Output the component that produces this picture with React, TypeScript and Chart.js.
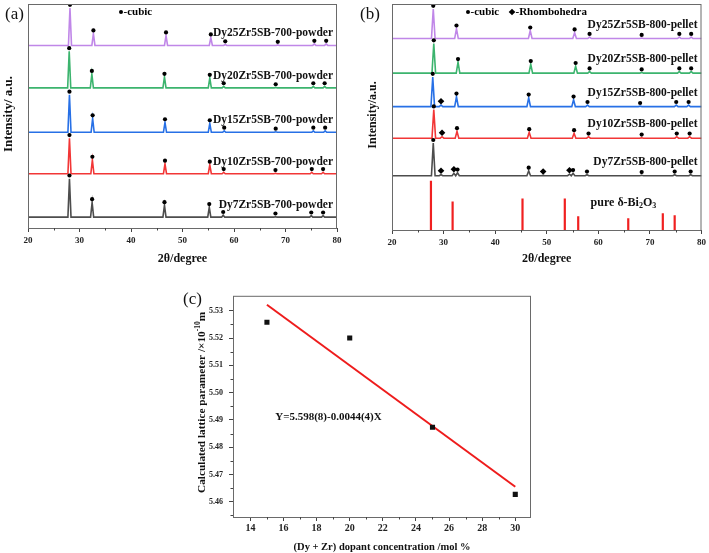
import React, { useEffect, useRef } from "react";
import { Chart, registerables } from "chart.js";

Chart.register(...registerables);

const SERIF = '"Liberation Serif", "Times New Roman", Times, serif';

// ---------------- Panel (a): 700 °C powders ----------------
const A_LABELS = [
  "Dy25Zr5SB-700-powder",
  "Dy20Zr5SB-700-powder",
  "Dy15Zr5SB-700-powder",
  "Dy10Zr5SB-700-powder",
  "Dy7Zr5SB-700-powder",
];
const A_OFFSETS = [185, 142, 97, 55, 11];
const A_DY25_POS = [28.15, 32.7, 46.8, 55.5, 58.3, 68.5, 75.6, 77.9];
const A_DY25_INT = [38, 12, 10, 8, 1, 0.5, 1.5, 1.5];
const A_DY20_POS = [28.0, 32.4, 46.5, 55.3, 58.0, 68.1, 75.4, 77.6];
const A_DY20_INT = [37, 14, 11, 10, 1.5, 0.5, 1.5, 1.5];
const A_DY15_POS = [28.05, 32.55, 46.6, 55.3, 58.1, 68.1, 75.4, 77.7];
const A_DY15_INT = [38, 14, 10, 9, 1.5, 0.5, 1.5, 1.5];
const A_DY10_POS = [28.05, 32.5, 46.6, 55.3, 58.0, 68.05, 75.1, 77.3];
const A_DY10_INT = [36, 14, 10, 9, 1.5, 0.5, 1.5, 1.5];
const A_DY7_POS = [28.05, 32.45, 46.5, 55.2, 57.9, 68.05, 75.0, 77.3];
const A_DY7_INT = [39, 15, 12, 10, 2, 0.5, 1.5, 1.5];

// ---------------- Panel (b): 800 °C pellets ----------------
const B_LABELS = [
  "Dy25Zr5SB-800-pellet",
  "Dy20Zr5SB-800-pellet",
  "Dy15Zr5SB-800-pellet",
  "Dy10Zr5SB-800-pellet",
  "Dy7Zr5SB-800-pellet",
];
const B_OFFSETS = [194, 159, 125, 93, 55];
const B_DY25_POS = [28.0, 32.5, 46.8, 55.4, 58.3, 68.4, 75.7, 78.0];
const B_DY25_INT = [30, 10, 8, 6, 1.5, 0.5, 1.5, 1.5];
const B_DY20_POS = [28.1, 32.8, 46.9, 55.6, 58.3, 68.4, 75.7, 78.0];
const B_DY20_INT = [30, 11, 9, 7, 1.5, 0.5, 1.5, 1.5];
const B_DY15_POS = [27.9, 32.5, 46.5, 55.2, 57.9, 68.1, 75.1, 77.5];
const B_DY15_INT = [30, 10, 9, 7, 1.5, 0.5, 1.5, 1.5];
const B_DY15_RPOS = [29.5];
const B_DY15_RINT = [1.5];
const B_DY10_POS = [28.1, 32.6, 46.6, 55.3, 58.1, 68.4, 75.2, 77.7];
const B_DY10_INT = [29, 7, 6, 5, 1.5, 0.5, 1.5, 1.5];
const B_DY10_RPOS = [29.7];
const B_DY10_RINT = [1.5];
const B_DY7_POS = [28.0, 32.7, 46.5, 55.1, 57.8, 68.4, 74.8, 77.9];
const B_DY7_INT = [33, 3, 5, 2.5, 1, 0.5, 1, 1];
const B_DY7_RPOS = [29.5, 32.0, 49.3, 54.4];
const B_DY7_RINT = [1, 2.5, 0.3, 1.5];
// pure delta-Bi2O3 reference sticks
const REF_POS = [27.55, 31.75, 45.3, 53.5, 56.1, 65.8, 72.5, 74.8];
const REF_INT = [50, 29, 32, 32, 14, 12, 17, 15];

// ---------------- Panel (c): lattice parameter ----------------
const DOPANT = [15, 20, 25, 30];
const LATTICE = [5.5258, 5.52, 5.4873, 5.4627];
const FIT_X = [15, 30];
const FIT_Y = [5.5322, 5.4655];
const X_TICKS_C = [14, 16, 18, 20, 22, 24, 26, 28, 30];
const Y_TICKS_C = [5.46, 5.47, 5.48, 5.49, 5.5, 5.51, 5.52, 5.53];

const COLORS = ["#c087e8", "#3cb46e", "#2770e6", "#f23636", "#4d4d4d"];
const FRAME = "#6a6a6a";

type Series = {
  base: number;
  cPos: number[];
  cInt: number[];
  rPos?: number[];
  rInt?: number[];
  hw: number;
};

function buildPattern(s: Series) {
  const peaks: { x: number; h: number }[] = [];
  s.cPos.forEach((x, i) => peaks.push({ x, h: s.cInt[i] }));
  (s.rPos || []).forEach((x, i) => peaks.push({ x, h: (s.rInt || [])[i] }));
  peaks.sort((a, b) => a.x - b.x);
  const pts: { x: number; y: number }[] = [{ x: 20, y: s.base }];
  peaks.forEach((p) => {
    pts.push({ x: p.x - s.hw, y: s.base });
    pts.push({ x: p.x, y: s.base + p.h });
    pts.push({ x: p.x + s.hw, y: s.base });
  });
  pts.push({ x: 80, y: s.base });
  return pts;
}

const GAP = 3.2;

function xrdConfig(
  series: Series[],
  labels: string[],
  o: {
    letter: string;
    yTitle: string;
    yTitleSize: number;
    yTitleX: number;
    padLeft: number;
    padRight: number;
    axisH: number;
    ymax: number;
    labelDy: number;
    rhomboLegend: boolean;
    legendX: number;
    refSticks: boolean;
  }
) {
  const datasets: any[] = [];
  series.forEach((s, i) => {
    datasets.push({
      type: "scatter",
      data: s.cPos.map((x, k) => ({ x, y: s.base + s.cInt[k] + GAP })),
      pointStyle: "circle",
      pointRadius: 2.1,
      backgroundColor: "#000",
      borderColor: "#000",
      borderWidth: 0,
      order: 0,
    });
    if (s.rPos) {
      datasets.push({
        type: "scatter",
        data: s.rPos.map((x, k) => ({ x, y: s.base + (s.rInt as number[])[k] + GAP + 0.8 })),
        pointStyle: "rectRot",
        pointRadius: 3.3,
        backgroundColor: "#000",
        borderColor: "#000",
        borderWidth: 0,
        order: 0,
      });
    }
    datasets.push({
      type: "line",
      data: buildPattern(s),
      borderColor: COLORS[i],
      borderWidth: 1.6,
      pointRadius: 0,
      tension: 0,
      order: 1,
    });
  });
  if (o.refSticks) {
    const pts: any[] = [];
    REF_POS.forEach((x, k) => {
      pts.push({ x, y: 0 }, { x, y: REF_INT[k] }, { x, y: null });
    });
    datasets.push({
      type: "line",
      data: pts,
      borderColor: "#f02020",
      borderWidth: 2.2,
      pointRadius: 0,
      spanGaps: false,
      order: 2,
    });
  }

  const decor = {
    id: "decor",
    afterDraw(chart: any) {
      const { ctx, chartArea: ca, scales } = chart;
      const x = scales.x;
      const y = scales.y;
      ctx.save();
      // frame
      ctx.strokeStyle = FRAME;
      ctx.lineWidth = 1;
      ctx.strokeRect(ca.left + 0.5, ca.top + 0.5, ca.right - ca.left - 1, ca.bottom - ca.top);
      // minor ticks
      ctx.strokeStyle = "#444";
      for (let v = 25; v < 80; v += 10) {
        const px = Math.round(x.getPixelForValue(v)) + 0.5;
        ctx.beginPath();
        ctx.moveTo(px, ca.bottom);
        ctx.lineTo(px, ca.bottom + 2.5);
        ctx.stroke();
      }
      // series labels
      ctx.fillStyle = "#111";
      ctx.font = `bold 11.5px ${SERIF}`;
      ctx.textAlign = "right";
      ctx.textBaseline = "middle";
      series.forEach((s, i) => {
        ctx.fillText(labels[i], ca.right - 4, y.getPixelForValue(s.base) - o.labelDy);
      });
      // reference label
      if (o.refSticks) {
        let tx = x.getPixelForValue(58.5);
        const ty = y.getPixelForValue(27);
        ctx.textAlign = "left";
        const parts: [string, number, number][] = [
          ["pure δ-Bi", 12, 0],
          ["2", 8, 3],
          ["O", 12, 0],
          ["3", 8, 3],
        ];
        parts.forEach(([t, sz, dy]) => {
          ctx.font = `bold ${sz}px ${SERIF}`;
          ctx.fillText(t, tx, ty + dy);
          tx += ctx.measureText(t).width;
        });
      }
      // legend
      ctx.textAlign = "left";
      ctx.font = `bold 11px ${SERIF}`;
      const ly = 12;
      let lx = o.legendX;
      ctx.fillStyle = "#000";
      ctx.beginPath();
      ctx.arc(lx, ly, 2, 0, Math.PI * 2);
      ctx.fill();
      ctx.fillText("-cubic", lx + 2.5, ly);
      if (o.rhomboLegend) {
        lx += 44;
        ctx.beginPath();
        ctx.moveTo(lx, ly - 3.3);
        ctx.lineTo(lx + 3.3, ly);
        ctx.lineTo(lx, ly + 3.3);
        ctx.lineTo(lx - 3.3, ly);
        ctx.closePath();
        ctx.fill();
        ctx.fillText("-Rhombohedra", lx + 3.5, ly);
      }
      // panel letter
      ctx.font = `17px ${SERIF}`;
      ctx.fillStyle = "#111";
      ctx.fillText(o.letter, ca.left - (o.padLeft - 5), 15);
      // x title
      ctx.font = `bold 12px ${SERIF}`;
      ctx.textAlign = "center";
      ctx.fillText("2θ/degree", (ca.left + ca.right) / 2, 259);
      // y title
      ctx.save();
      ctx.translate(o.yTitleX, (ca.top + ca.bottom) / 2 - 2);
      ctx.rotate(-Math.PI / 2);
      ctx.font = `bold ${o.yTitleSize}px ${SERIF}`;
      ctx.fillText(o.yTitle, 0, 0);
      ctx.restore();
      ctx.restore();
    },
  };

  return {
    type: "scatter" as const,
    data: { datasets },
    options: {
      responsive: false,
      animation: false as const,
      devicePixelRatio: 1,
      layout: { padding: { left: o.padLeft, right: o.padRight, top: 1, bottom: 0 } },
      plugins: { legend: { display: false }, tooltip: { enabled: false } },
      scales: {
        x: {
          type: "linear" as const,
          min: 20,
          max: 80,
          ticks: {
            stepSize: 10,
            font: { family: SERIF, size: 9, weight: "bold" as const },
            color: "#222",
            padding: 3,
          },
          grid: { drawOnChartArea: false, tickLength: 4, tickColor: "#444" },
          border: { display: false },
          afterFit: (s: any) => {
            s.height = o.axisH;
          },
        },
        y: { display: false, min: 0, max: o.ymax },
      },
    },
    plugins: [decor],
  };
}

function configA() {
  const s: Series[] = [
    { base: A_OFFSETS[0], cPos: A_DY25_POS, cInt: A_DY25_INT, hw: 0.3 },
    { base: A_OFFSETS[1], cPos: A_DY20_POS, cInt: A_DY20_INT, hw: 0.3 },
    { base: A_OFFSETS[2], cPos: A_DY15_POS, cInt: A_DY15_INT, hw: 0.3 },
    { base: A_OFFSETS[3], cPos: A_DY10_POS, cInt: A_DY10_INT, hw: 0.3 },
    { base: A_OFFSETS[4], cPos: A_DY7_POS, cInt: A_DY7_INT, hw: 0.3 },
  ];
  return xrdConfig(s, A_LABELS, {
    letter: "(a)",
    yTitle: "Intensity/ a.u.",
    yTitleSize: 13,
    yTitleX: 9,
    padLeft: 28,
    padRight: 18,
    axisH: 42,
    ymax: 227,
    labelDy: 12,
    rhomboLegend: false,
    legendX: 121,
    refSticks: false,
  });
}

function configB() {
  const s: Series[] = [
    { base: B_OFFSETS[0], cPos: B_DY25_POS, cInt: B_DY25_INT, hw: 0.35 },
    { base: B_OFFSETS[1], cPos: B_DY20_POS, cInt: B_DY20_INT, hw: 0.35 },
    { base: B_OFFSETS[2], cPos: B_DY15_POS, cInt: B_DY15_INT, rPos: B_DY15_RPOS, rInt: B_DY15_RINT, hw: 0.35 },
    { base: B_OFFSETS[3], cPos: B_DY10_POS, cInt: B_DY10_INT, rPos: B_DY10_RPOS, rInt: B_DY10_RINT, hw: 0.35 },
    { base: B_OFFSETS[4], cPos: B_DY7_POS, cInt: B_DY7_INT, rPos: B_DY7_RPOS, rInt: B_DY7_RINT, hw: 0.35 },
  ];
  return xrdConfig(s, B_LABELS, {
    letter: "(b)",
    yTitle: "Intensity/a.u.",
    yTitleSize: 12,
    yTitleX: 18,
    padLeft: 37,
    padRight: 7,
    axisH: 40,
    ymax: 229,
    labelDy: 14,
    rhomboLegend: true,
    legendX: 113,
    refSticks: true,
  });
}

function configC() {
  const decor = {
    id: "decorC",
    afterDraw(chart: any) {
      const { ctx, chartArea: ca, scales } = chart;
      const x = scales.x;
      const y = scales.y;
      ctx.save();
      ctx.strokeStyle = FRAME;
      ctx.lineWidth = 1;
      ctx.strokeRect(ca.left + 0.5, ca.top + 0.5, ca.right - ca.left - 1, ca.bottom - ca.top);
      ctx.strokeStyle = "#444";
      // minor ticks x
      for (let v = 15; v <= 29; v += 2) {
        const px = Math.round(x.getPixelForValue(v)) + 0.5;
        ctx.beginPath();
        ctx.moveTo(px, ca.bottom);
        ctx.lineTo(px, ca.bottom + 2.5);
        ctx.stroke();
      }
      // minor ticks y
      for (let k = 0; k < Y_TICKS_C.length; k++) {
        const v = Y_TICKS_C[k] - 0.005;
        const py = Math.round(y.getPixelForValue(v)) + 0.5;
        ctx.beginPath();
        ctx.moveTo(ca.left, py);
        ctx.lineTo(ca.left - 2.5, py);
        ctx.stroke();
      }
      ctx.fillStyle = "#111";
      // equation
      ctx.font = `bold 11px ${SERIF}`;
      ctx.textAlign = "left";
      ctx.textBaseline = "middle";
      ctx.fillText("Y=5.598(8)-0.0044(4)X", x.getPixelForValue(15.5), y.getPixelForValue(5.491));
      // letter
      ctx.font = `17px ${SERIF}`;
      ctx.fillText("(c)", 23, 15);
      // x title
      ctx.font = `bold 10.5px ${SERIF}`;
      ctx.textAlign = "center";
      ctx.fillText("(Dy + Zr) dopant concentration /mol %", (ca.left + ca.right) / 2, 262);
      // y title with superscript
      ctx.save();
      ctx.translate(42, (ca.top + ca.bottom) / 2 - 4);
      ctx.rotate(-Math.PI / 2);
      const parts: [string, number, number][] = [
        ["Calculated lattice parameter /×10", 11.3, 0],
        ["-10", 7.5, -4],
        ["m", 11.3, 0],
      ];
      let total = 0;
      parts.forEach(([t, sz]) => {
        ctx.font = `bold ${sz}px ${SERIF}`;
        total += ctx.measureText(t).width;
      });
      let tx = -total / 2;
      ctx.textAlign = "left";
      parts.forEach(([t, sz, dy]) => {
        ctx.font = `bold ${sz}px ${SERIF}`;
        ctx.fillText(t, tx, dy);
        tx += ctx.measureText(t).width;
      });
      ctx.restore();
      ctx.restore();
    },
  };

  return {
    type: "scatter" as const,
    data: {
      datasets: [
        {
          type: "scatter",
          data: DOPANT.map((x, i) => ({ x, y: LATTICE[i] })),
          pointStyle: "rect",
          pointRadius: 3.6,
          backgroundColor: "#111",
          borderColor: "#111",
          borderWidth: 0,
          order: 0,
        },
        {
          type: "line",
          data: FIT_X.map((x, i) => ({ x, y: FIT_Y[i] })),
          borderColor: "#ee1c1c",
          borderWidth: 2,
          pointRadius: 0,
          order: 1,
        },
      ] as any[],
    },
    options: {
      responsive: false,
      animation: false as const,
      devicePixelRatio: 1,
      layout: { padding: { left: 0, right: 19, top: 10, bottom: 0 } },
      plugins: { legend: { display: false }, tooltip: { enabled: false } },
      scales: {
        x: {
          type: "linear" as const,
          min: 12.95,
          max: 30.95,
          afterBuildTicks: (s: any) => {
            s.ticks = X_TICKS_C.map((v) => ({ value: v }));
          },
          ticks: {
            callback: (v: any) => String(Math.round(Number(v))),
            font: { family: SERIF, size: 10, weight: "bold" as const },
            color: "#222",
            padding: 1,
          },
          grid: { drawOnChartArea: false, tickLength: 4, tickColor: "#444" },
          border: { display: false },
          afterFit: (s: any) => {
            s.height = 36;
          },
        },
        y: {
          type: "linear" as const,
          min: 5.4544,
          max: 5.5355,
          afterBuildTicks: (s: any) => {
            s.ticks = Y_TICKS_C.map((v) => ({ value: v }));
          },
          ticks: {
            callback: (v: any) => Number(v).toFixed(2),
            font: { family: SERIF, size: 8, weight: "bold" as const },
            color: "#222",
            padding: 6,
          },
          grid: { drawOnChartArea: false, tickLength: 4, tickColor: "#444" },
          border: { display: false },
          afterFit: (s: any) => {
            s.width = 73;
          },
        },
      },
    },
    plugins: [decor],
  };
}

export default function App() {
  const aRef = useRef<HTMLCanvasElement>(null);
  const bRef = useRef<HTMLCanvasElement>(null);
  const cRef = useRef<HTMLCanvasElement>(null);

  useEffect(() => {
    const charts = [
      new Chart(aRef.current as HTMLCanvasElement, configA() as any),
      new Chart(bRef.current as HTMLCanvasElement, configB() as any),
      new Chart(cRef.current as HTMLCanvasElement, configC() as any),
    ];
    return () => charts.forEach((c) => c.destroy());
  }, []);

  return (
    <div style={{ position: "absolute", left: 0, top: 0, width: 709, height: 553, background: "#fff" }}>
      <canvas
        ref={aRef}
        width={355}
        height={270}
        style={{ position: "absolute", left: 0, top: 0, width: 355, height: 270 }}
      />
      <canvas
        ref={bRef}
        width={354}
        height={270}
        style={{ position: "absolute", left: 355, top: 0, width: 354, height: 270 }}
      />
      <canvas
        ref={cRef}
        width={390}
        height={268}
        style={{ position: "absolute", left: 160, top: 285, width: 390, height: 268 }}
      />
    </div>
  );
}
